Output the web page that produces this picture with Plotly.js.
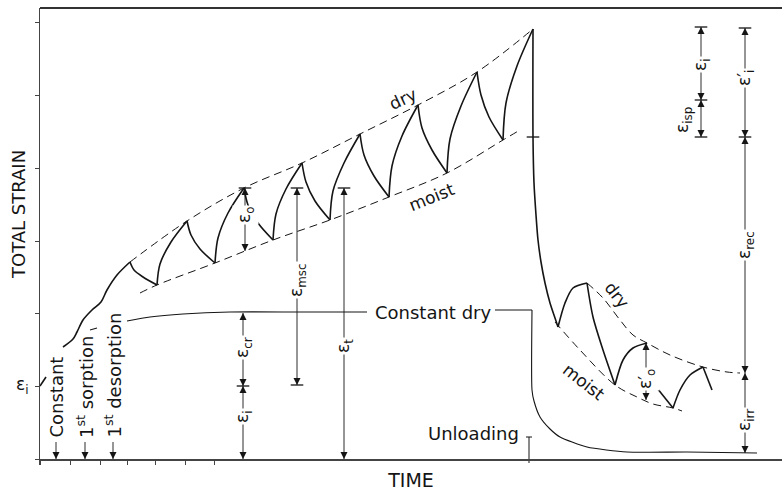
<!DOCTYPE html>
<html><head><meta charset="utf-8">
<script src="https://cdn.plot.ly/plotly-3.0.1.min.js"></script>
<style>html,body{margin:0;padding:0;background:#fff}#chart{width:782px;height:494px}</style>
</head><body><div id="chart"></div>
<script>
const loadTime = [0,6,null,
 23,33,37,43,52,61,67,77,90,null,
 90,94,103,117,null, 117,120,131,147,null, 147,151,160,175,null, 175,178,188,204,null,
 204,208,218,233,null, 233,236,246,262,null, 262,266,275,290,null, 290,293,304,320,null,
 320,324,334,349,null, 349,352,362,378,null, 378,382,392,407,null, 407,410,421,437,null,
 437,441,449,463,null, 463,466,477,493];
const loadStrain = [73,82,null,
 112,120,127,139,149,157,169,184,197,null,
 197,189,182,174,null, 174,195,217,238,null, 238,224,210,196,null, 196,221,246,271,null,
 271,254,236,219,null, 219,245,270,296,null, 296,277,258,239,null, 239,268,296,325,null,
 325,304,283,262,null, 262,293,323,354,null, 354,331,309,286,null, 286,320,353,387,null,
 387,364,342,319,null, 319,356,393,430];

const unloadTime = [493,493,494,496,498,501,505,510,515,518,null,
 518,525,533,547,null, 547,553,563,575,null, 575,583,593,607,null,
 617,633,null, 633,640,650,663,null, 663,672];
const unloadStrain = [430,322,276,244,219,197,176,156,141,132,null,
 132,156,171,176,null, 176,142,109,74,null, 74,99,111,116,null,
 71,51,null, 51,69,84,92,null, 92,69];

const dryLoadTime = [90,147,204,262,320,378,437,493];
const dryLoadStrain = [197,238,271,296,325,354,387,430];
const moistLoadTime = [100,117,175,233,290,349,407,463,480];
const moistLoadStrain = [166,174,196,219,239,262,286,319,329];
const dryRecTime = [547,563,580,593,607,630,663,687,700];
const dryRecStrain = [176,161,139,124,116,104,92,87,86];
const moistRecTime = [515,540,575,597,613,633,642];
const moistRecStrain = [137,109,74,62,55,51,48];

const constDryTime = [50,57,null, 87,110,143,190,260,327,null, 455,492,null, 492,492,494,500,510,520,547,587,647,717];
const constDryStrain = [129,131,null, 138,142,145,147,147,147,null, 149,149,null, 149,69,58,42,30,22,12,7,7,6];

const unloadMarkTime = [489,489,null,486,492];
const unloadMarkStrain = [22,-4,null,22,22];

const capTime = [205,257,257,304,661,661,705,661,705,203,493];
const capStrain = [271,271,74,271,322,432,431,359,322,73,322];

// dimension markers
const dimTime   = [205,257,304,203,203,661,661,705,705,705,606];
const dimTop    = [271,271,271,146,73,359,432,431,322,86,116];
const dimBottom = [208,74,0,73,0,322,359,322,86,6,59];
const dimLabelTime = [205,257,304,203,203,643,661,705,705,705,606];
const dimLabelStrain = [244,179,113,111,42,339,394,381,214,39,80];
const dimText = ['ε<sub>o</sub>','ε<sub>msc</sub>','ε<sub>t</sub>','ε<sub>cr</sub>','ε<sub>i</sub>',
 'ε<sub>isp</sub>','ε<sub>i</sub>','ε′<sub>i</sub>','ε<sub>rec</sub>','ε<sub>irr</sub>','ε′<sub>o</sub>'];

// events along the time axis
const eventTime = [16,45,73];
const eventArrowTop = [17,17,17];
const eventText = ['Constant','1<sup>st</sup> sorption','1<sup>st</sup> desorption'];

// free notes
const noteText = ['dry','moist','Constant dry','Unloading','dry','moist'];
const noteTime = [363,392,393,433,577,544];
const noteStrain = [360,262,147,26,164,77];
const noteAngle = [-25,-22,0,0,52,38];

// labels left of the strain axis (time offset left of the axis, strain position)
const leftLabelText = ['ε<sub>i</sub>','TOTAL STRAIN'];
const leftLabelTime = [-18,-22];
const leftLabelStrain = [74,244];
const leftLabelAngle = [0,-90];

const xTickVals = [0,30,60,87,115,145,174];
const yTickVals = [0,73,146,218,291,364,437];
const timeRange = [0,742];
const strainRange = [-6,451];

// ---- Drawing ----
const ink = '#151515';
const FONT = 'DejaVu Sans, Liberation Sans, sans-serif';

const dimLineX = [], dimLineY = [], upX = [], upY = [], downX = [], downY = [];
dimTime.forEach((t,i)=>{
  dimLineX.push(t,t,null); dimLineY.push(dimTop[i],dimBottom[i],null);
  upX.push(t); upY.push(dimTop[i]); downX.push(t); downY.push(dimBottom[i]);
});
eventTime.forEach((t,i)=>{
  dimLineX.push(t,t,null); dimLineY.push(eventArrowTop[i],0,null);
  downX.push(t); downY.push(0);
});

const traces = [
 {x:dimLineX,y:dimLineY,mode:'lines',line:{color:ink,width:0.9},connectgaps:false,hoverinfo:'skip'},
 {x:upX,y:upY,mode:'markers',marker:{symbol:'arrow-up',size:7,color:ink,line:{width:0}},hoverinfo:'skip'},
 {x:downX,y:downY,mode:'markers',marker:{symbol:'arrow-down',size:7,color:ink,line:{width:0}},hoverinfo:'skip'},
 {x:loadTime,y:loadStrain,mode:'lines',line:{color:ink,width:1.6,shape:'spline',smoothing:0.9},connectgaps:false,hoverinfo:'skip'},
 {x:unloadTime,y:unloadStrain,mode:'lines',line:{color:ink,width:1.6,shape:'spline',smoothing:0.8},connectgaps:false,hoverinfo:'skip'},
 {x:dryLoadTime,y:dryLoadStrain,mode:'lines',line:{color:ink,width:1,dash:'8px,5px',shape:'spline'},hoverinfo:'skip'},
 {x:moistLoadTime,y:moistLoadStrain,mode:'lines',line:{color:ink,width:1,dash:'8px,5px',shape:'spline'},hoverinfo:'skip'},
 {x:dryRecTime,y:dryRecStrain,mode:'lines',line:{color:ink,width:1,dash:'8px,5px',shape:'spline'},hoverinfo:'skip'},
 {x:moistRecTime,y:moistRecStrain,mode:'lines',line:{color:ink,width:1,dash:'8px,5px',shape:'spline'},hoverinfo:'skip'},
 {x:constDryTime,y:constDryStrain,mode:'lines',line:{color:ink,width:1.1,shape:'spline',smoothing:0.6},connectgaps:false,hoverinfo:'skip'},
 {x:unloadMarkTime,y:unloadMarkStrain,mode:'lines',line:{color:ink,width:1},connectgaps:false,hoverinfo:'skip'},
 {x:capTime,y:capStrain,mode:'markers',marker:{symbol:'line-ew',size:9,line:{color:ink,width:1.3}},hoverinfo:'skip'}
];

const annotations = [];
for (let i=0;i<dimTime.length;i++){
  annotations.push({x:dimLabelTime[i],y:dimLabelStrain[i],xref:'x',yref:'y',text:dimText[i],textangle:-90,
    showarrow:false,bgcolor:'#ffffff',borderpad:1,font:{family:FONT,size:17,color:ink}});
}
for (let i=0;i<eventTime.length;i++){
  annotations.push({x:eventTime[i],y:19,xref:'x',yref:'y',text:eventText[i],textangle:-90,yanchor:'bottom',
    showarrow:false,font:{family:FONT,size:18,color:ink}});
}
for (let i=0;i<noteText.length;i++){
  annotations.push({x:noteTime[i],y:noteStrain[i],xref:'x',yref:'y',text:noteText[i],textangle:noteAngle[i],
    showarrow:false,font:{family:FONT,size:i===2||i===3?18:17,color:ink}});
}
const span = timeRange[1]-timeRange[0];
for (let i=0;i<leftLabelText.length;i++){
  annotations.push({x:(leftLabelTime[i]-timeRange[0])/span,y:leftLabelStrain[i],xref:'paper',yref:'y',
    xanchor:'center',yanchor:'middle',
    text:leftLabelText[i],textangle:leftLabelAngle[i],showarrow:false,font:{family:FONT,size:i===1?18:17,color:ink}});
}

const layout = {
  width:782,height:494,margin:{l:40,r:0,t:8,b:29},
  paper_bgcolor:'#fff',plot_bgcolor:'#fff',showlegend:false,
  font:{family:FONT,color:ink},
  xaxis:{range:timeRange,tickvals:xTickVals,ticks:'outside',ticklen:4,tickcolor:'#444',showticklabels:false,
    showline:true,linecolor:'#444',linewidth:1.5,showgrid:false,zeroline:false,
    anchor:'free',position:(0-strainRange[0])/(strainRange[1]-strainRange[0]),
    title:{text:'TIME',font:{family:FONT,size:19,color:ink},standoff:10}},
  yaxis:{range:strainRange,tickvals:yTickVals,ticks:'outside',ticklen:4,tickcolor:'#444',showticklabels:false,
    showline:true,linecolor:'#444',linewidth:1.5,showgrid:false,zeroline:false},
  shapes:[{type:'line',xref:'paper',yref:'paper',x0:0,x1:1,y0:1,y1:1,line:{color:'#333',width:2}}],
  annotations:annotations
};
Plotly.newPlot('chart',traces,layout,{staticPlot:true,displayModeBar:false});
</script></body></html>
